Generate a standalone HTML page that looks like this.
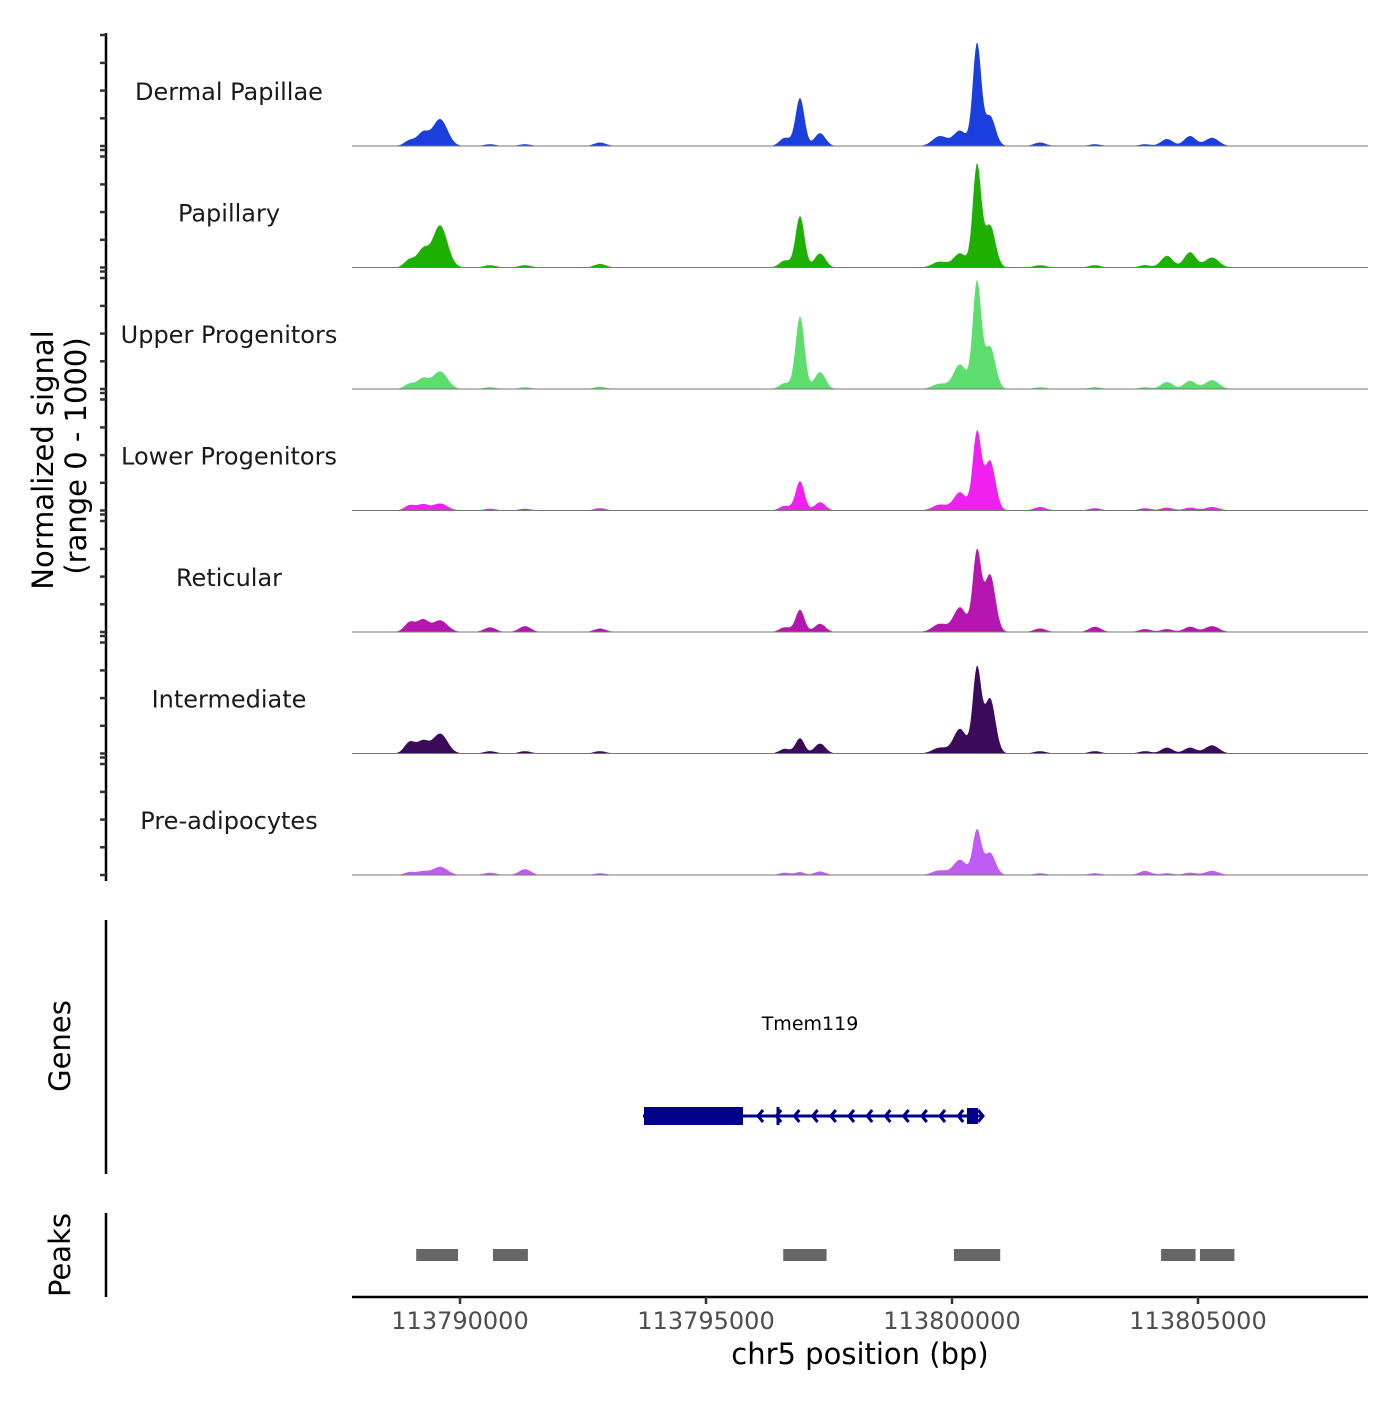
<!DOCTYPE html>
<html><head><meta charset="utf-8"><style>
body{margin:0;background:#fff}
svg text{font-family:"DejaVu Sans","Liberation Sans",sans-serif}
</style></head><body>
<svg id="chart" width="1400" height="1400" viewBox="0 0 1400 1400" xmlns="http://www.w3.org/2000/svg">
<rect width="1400" height="1400" fill="#fff"/>
<g id="tracks"></g>
<g id="left-axis"></g>
<text transform="translate(53,460) rotate(-90)" text-anchor="middle" font-size="29">Normalized signal</text>
<text transform="translate(86,456) rotate(-90)" text-anchor="middle" font-size="29">(range 0 - 1000)</text>
<line x1="106" y1="920" x2="106" y2="1174" stroke="#000" stroke-width="2.5"/>
<text transform="translate(70,1046) rotate(-90)" text-anchor="middle" font-size="29">Genes</text>
<line x1="106" y1="1213" x2="106" y2="1297" stroke="#000" stroke-width="2.5"/>
<text transform="translate(70,1255) rotate(-90)" text-anchor="middle" font-size="29">Peaks</text>
<g id="gene"></g>
<g id="peaks"></g>
<g id="xaxis"></g>
<text x="860" y="1364" text-anchor="middle" font-size="29">chr5 position (bp)</text>
</svg>
<script>
const trackNames = ["Dermal Papillae","Papillary","Upper Progenitors","Lower Progenitors","Reticular","Intermediate","Pre-adipocytes"];
const trackColors = ["#1a3fdc","#1db000","#5ddd6d","#f020f0","#b516b0","#3b0a5a","#bf5cf4"];
const peakCenters = [113788984,113789248,113789594,113790610,113791321,113792846,113796606,113796911,113797317,113799756,113800163,113800508,113800772,113801789,113802906,113803923,113804370,113804837,113805284];
const peakWidths  = [110,110,150,120,120,120,110,90,110,150,130,85,110,120,120,120,120,120,140];
const sig0 = [50,110,230,15,15,30,70,410,110,85,130,870,255,30,15,15,60,85,70];
const sig1 = [70,145,360,20,20,30,60,440,120,50,120,870,360,20,20,20,100,130,85];
const sig2 = [45,85,150,15,15,20,50,620,145,45,210,910,360,15,15,15,60,70,75];
const sig3 = [45,50,60,15,15,20,40,250,70,50,155,660,425,30,20,20,25,25,30];
const sig4 = [85,100,100,40,50,30,40,190,70,70,210,680,490,30,45,25,25,45,50];
const sig5 = [100,100,170,20,20,20,40,130,85,50,210,720,470,20,20,20,50,50,70];
const sig6 = [25,30,70,20,50,15,20,25,30,40,130,380,190,15,15,35,15,20,35];
const trackSignals = [sig0,sig1,sig2,sig3,sig4,sig5,sig6];
const xTicks = [113790000,113795000,113800000,113805000];
const peakStarts = [113789110,113790670,113796570,113800040,113804250,113805040];
const peakEnds   = [113789960,113791380,113797450,113800980,113804950,113805740];

const NS="http://www.w3.org/2000/svg";
const X0=113790000, PX0=460, SCALE=246/5000;
const xs = bp => PX0 + (bp-X0)*SCALE;
const baselines=[146,267.5,389,510.5,632,753.5,875];
const ys = (v,b) => b - v*0.117;
function mk(tag,attrs,parent){const e=document.createElementNS(NS,tag);for(const k in attrs)e.setAttribute(k,attrs[k]);parent.appendChild(e);return e;}

const tracks=document.getElementById('tracks');
const dStart=113788650, dEnd=113807420;
trackNames.forEach((name,t)=>{
  const g=mk('g',{},tracks);
  
  
  const b=baselines[t];
  let d='M'+xs(dStart).toFixed(1)+','+b;
  for(let bp=dStart;bp<=dEnd;bp+=25){
    let v=0;
    const s=trackSignals[t];
    for(let i=0;i<peakCenters.length;i++){const z=(bp-peakCenters[i])/peakWidths[i];v+=s[i]*Math.exp(-0.5*z*z);}
    d+=' L'+xs(bp).toFixed(1)+','+ys(v,b).toFixed(1);
  }
  d+=' L'+xs(dEnd).toFixed(1)+','+b+' Z';
  const p=mk('path',{d:d,fill:trackColors[t]},g);
  
  
  const l=mk('line',{x1:352,x2:1368,y1:b,y2:b,stroke:'#777','stroke-width':1},g);
  
  
  const tx=mk('text',{x:229,y:b-46,'text-anchor':'middle','font-size':24,fill:'#1a1a1a'},g);
  tx.textContent=name;
  
  
});

const la=document.getElementById('left-axis');
mk('line',{x1:106,y1:33,x2:106,y2:881,stroke:'#000','stroke-width':2.5},la);
baselines.forEach((b,t)=>{
  [0,27.7,55.4,83.1,111].forEach(o=>{
    const tk=mk('line',{x1:100,x2:106,y1:b-o,y2:b-o,stroke:'#333','stroke-width':2.5},la);
    
    
  });
  if(t>0){const tk=mk('line',{x1:100,x2:106,y1:b-117.5,y2:b-117.5,stroke:'#333','stroke-width':2.5},la);
    
    }
});

const gene=document.getElementById('gene');
const gc='#00008b';
mk('line',{x1:643,x2:983,y1:1116,y2:1116,stroke:gc,'stroke-width':3},gene);
mk('rect',{x:644,y:1107,width:99,height:18,fill:gc},gene);
mk('rect',{x:967,y:1108,width:11,height:16,fill:gc},gene);
mk('line',{x1:778,x2:778,y1:1107,y2:1125,stroke:gc,'stroke-width':3},gene);
for(let x=758;x<=975;x+=18.2){
  const a=mk('path',{d:`M${x+5},${1110} L${x},1116 L${x+5},1122`,stroke:gc,'stroke-width':3,fill:'none'},gene);
  
  
}
mk('path',{d:'M978,1110 L983,1116 L978,1122',stroke:gc,'stroke-width':3,fill:'none'},gene);
const gl=mk('text',{x:810,y:1030,'text-anchor':'middle','font-size':19,fill:'#000'},gene);
gl.textContent='Tmem119';



const pk=document.getElementById('peaks');
peakStarts.forEach((s,i)=>{
  const r=mk('rect',{x:xs(s),y:1249,width:xs(peakEnds[i])-xs(s),height:12,fill:'#666'},pk);
  
  
});

const xa=document.getElementById('xaxis');
mk('line',{x1:352,x2:1368,y1:1297,y2:1297,stroke:'#000','stroke-width':2.5},xa);
xTicks.forEach(v=>{
  const x=xs(v);
  const t=mk('line',{x1:x,x2:x,y1:1297,y2:1304,stroke:'#333','stroke-width':2.5},xa);
  
  
  const l=mk('text',{x:x,y:1329,'text-anchor':'middle','font-size':24,fill:'#4d4d4d'},xa);
  l.textContent=String(v);
  
  
});
</script>
</body></html>
